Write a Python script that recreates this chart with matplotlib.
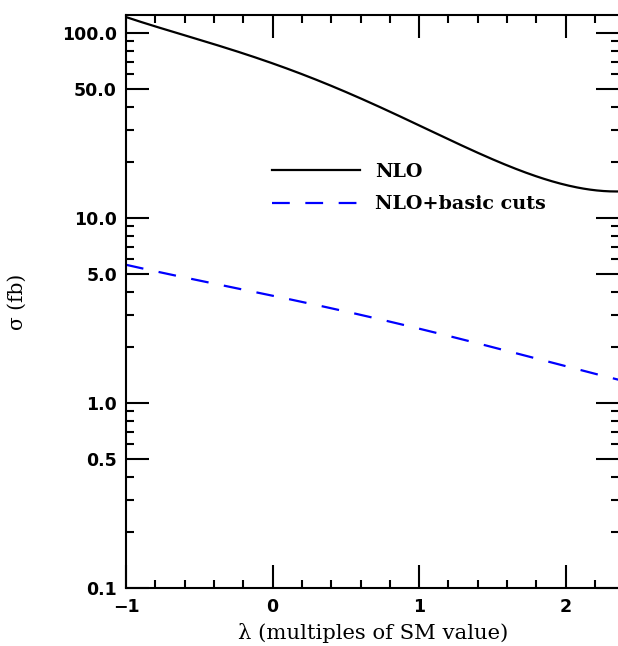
import matplotlib
matplotlib.use("Agg")
import matplotlib.pyplot as plt
from matplotlib.ticker import FixedLocator, FixedFormatter, MultipleLocator
import numpy as np

# cross section vs trilinear coupling
lam = [-1.0, -0.5, 0.0, 0.5, 1.0, 1.5, 2.0, 2.37]
sigma_nlo = [122.0, 91.5, 68.8, 48.0, 31.5, 20.8, 15.1, 13.9]
sigma_cuts = [5.58, 4.6, 3.79, 3.12, 2.53, 2.0, 1.58, 1.33]

ytick_values = [0.1, 0.5, 1.0, 5.0, 10.0, 50.0, 100.0]
ytick_labels = ["0.1", "0.5", "1.0", "5.0", "10.0", "50.0", "100.0"]
xtick_values = [-1, 0, 1, 2]
xtick_labels = ["\u22121", "0", "1", "2"]

# smooth the curves in log space
lam_fine = np.linspace(lam[0], lam[-1], 300)
def smooth(y):
    coef = np.polyfit(lam, np.log10(y), 4)
    return 10 ** np.polyval(coef, lam_fine)

fig = plt.figure(figsize=(6.18, 6.46), dpi=100)
ax = fig.add_axes([126 / 618, 58 / 646, 493.5 / 618, 573 / 646])

ax.plot(lam_fine, smooth(sigma_nlo), color="black", lw=1.6, label="NLO")
ax.plot(lam_fine, smooth(sigma_cuts), color="blue", lw=1.6,
        linestyle=(0, (8, 7)), label="NLO+basic cuts")

ax.set_yscale("log")
ax.set_xlim(-1, 2.367)
ax.set_ylim(0.1, 125)

ax.yaxis.set_major_locator(FixedLocator(ytick_values))
ax.yaxis.set_major_formatter(FixedFormatter(ytick_labels))
minor = [m * 10.0 ** e for e in range(-1, 3) for m in range(2, 10) if m != 5]
ax.yaxis.set_minor_locator(FixedLocator(minor))
ax.yaxis.set_minor_formatter(FixedFormatter([]))

ax.xaxis.set_major_locator(FixedLocator(xtick_values))
ax.xaxis.set_major_formatter(FixedFormatter(xtick_labels))
ax.xaxis.set_minor_locator(MultipleLocator(0.2))

ax.tick_params(which="both", direction="in", top=True, right=True, width=1.5)
ax.tick_params(which="major", length=16.5)
ax.tick_params(which="minor", length=5.8)
ax.tick_params(axis="y", which="major", pad=6.5)
ax.tick_params(axis="x", which="major", pad=7)
for lbl in ax.get_xticklabels() + ax.get_yticklabels():
    lbl.set_fontweight("bold")
    lbl.set_fontsize(12.5)
    lbl.set_family("DejaVu Sans")
for sp in ax.spines.values():
    sp.set_linewidth(1.5)

ax.set_xlabel("\u03bb (multiples of SM value)", family="DejaVu Serif",
              fontsize=15.2, labelpad=5)
ax.set_ylabel("\u03c3 (fb)", family="DejaVu Serif", fontsize=14.5, labelpad=25)

leg = ax.legend(loc="upper left", bbox_to_anchor=(0.296, 0.742), frameon=False,
                borderpad=0, borderaxespad=0,
                handlelength=4.6, handletextpad=0.78, labelspacing=0.76,
                prop={"family": "DejaVu Serif", "weight": "bold", "size": 13.8})

fig.savefig("out.png", dpi=100)
